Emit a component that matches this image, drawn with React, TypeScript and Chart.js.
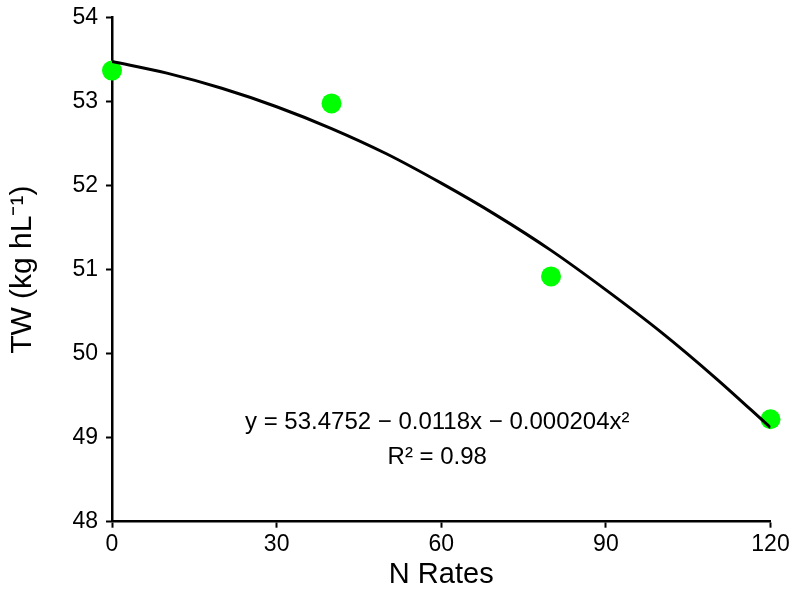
import { useEffect, useRef } from 'react';
import { Chart, registerables } from 'chart.js';

Chart.register(...registerables);

// observed points
const nRates = [0, 40, 80, 120];
const twValues = [53.37, 52.98, 50.92, 49.22];

// fitted curve
const curveX = [0, 10, 20, 30, 40, 50, 60, 70, 80, 90, 100, 110, 120];
const curveY = [53.48, 53.34, 53.16, 52.94, 52.68, 52.38, 52.03, 51.65, 51.23, 50.76, 50.26, 49.71, 49.12];

const xTicks = [0, 30, 60, 90, 120];
const yTicks = [48, 49, 50, 51, 52, 53, 54];

const equationText = 'y = 53.4752 \u2212 0.0118x \u2212 0.000204x\u00b2';
const r2Text = 'R\u00b2 = 0.98';

const FONT = "'Liberation Sans', Arial, sans-serif";

const equationPlugin = {
  id: 'equationText',
  afterDatasetsDraw(chart: any) {
    const { ctx, scales } = chart;
    const x = scales.x.getPixelForValue(60) - 4;
    ctx.save();
    ctx.fillStyle = '#000';
    ctx.font = `24px ${FONT}`;
    ctx.textAlign = 'center';
    ctx.textBaseline = 'middle';
    ctx.fillText(equationText, x, 422);
    ctx.fillText(r2Text, x, 457);
    ctx.restore();
  },
};

const App = () => {
  const canvasRef = useRef<HTMLCanvasElement>(null);

  useEffect(() => {
    if (!canvasRef.current) return;
    const chart = new Chart(canvasRef.current, {
      type: 'scatter',
      data: {
        datasets: [
          {
            type: 'line',
            data: curveX.map((x, i) => ({ x, y: curveY[i] })),
            borderColor: '#000',
            borderWidth: 3,
            pointRadius: 0,
            tension: 0.4,
            cubicInterpolationMode: 'monotone',
            order: 1,
          },
          {
            data: nRates.map((x, i) => ({ x, y: twValues[i] })),
            backgroundColor: '#00ff00',
            borderWidth: 0,
            pointRadius: 10,
            clip: false,
            order: 2,
          },
        ],
      } as any,
      options: {
        animation: false,
        responsive: true,
        maintainAspectRatio: false,
        layout: { padding: { left: 0, right: 28.5, top: 17.7, bottom: 0 } },
        plugins: { legend: { display: false }, tooltip: { enabled: false } },
        scales: {
          x: {
            type: 'linear',
            min: 0,
            max: 120,
            afterBuildTicks: (axis: any) => {
              axis.ticks = xTicks.map((v) => ({ value: v }));
            },
            afterFit: (axis: any) => {
              axis.height = 72.3;
              axis.paddingLeft = 0;
              axis.paddingRight = 0;
            },
            grid: { display: true, drawOnChartArea: false, drawTicks: true, tickLength: 6, tickColor: '#000', tickWidth: 2 },
            border: { color: '#000', width: 2.5 },
            ticks: { color: '#000', font: { size: 23, family: FONT }, padding: 3, maxRotation: 0 },
            title: { display: true, text: 'N Rates', color: '#000', font: { size: 29, family: FONT }, padding: { top: 0, bottom: 2 } },
          },
          y: {
            type: 'linear',
            min: 48,
            max: 54,
            afterBuildTicks: (axis: any) => {
              axis.ticks = yTicks.map((v) => ({ value: v }));
            },
            afterFit: (axis: any) => {
              axis.width = 112;
              axis.paddingTop = 0;
              axis.paddingBottom = 0;
            },
            grid: { display: true, drawOnChartArea: false, drawTicks: true, tickLength: 6, tickColor: '#000', tickWidth: 2 },
            border: { color: '#000', width: 2.5 },
            ticks: { color: '#000', font: { size: 23, family: FONT }, padding: 8 },
            title: { display: true, text: 'TW (kg hL\u207b\u00b9)', color: '#000', font: { size: 30, family: FONT }, padding: { top: 5, bottom: 0 } },
          },
        },
      },
      plugins: [equationPlugin],
    } as any);
    return () => chart.destroy();
  }, []);

  return (
    <div style={{ position: 'fixed', left: 0, top: 0, width: 799, height: 594, background: '#fff' }}>
      <canvas ref={canvasRef} />
    </div>
  );
};

export default App;
